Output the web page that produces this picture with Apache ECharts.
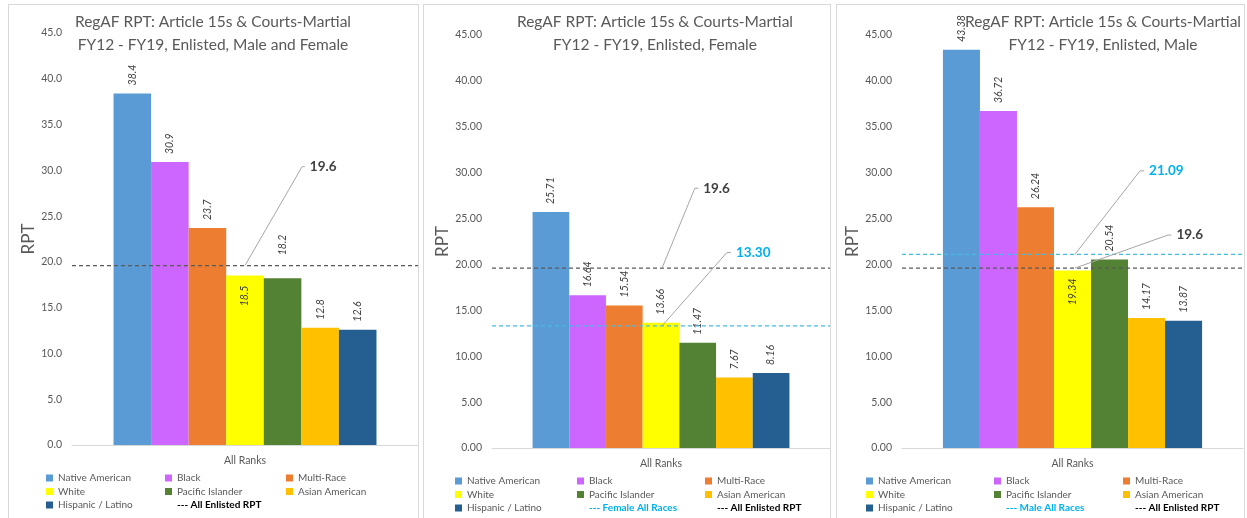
<!DOCTYPE html>
<html><head><meta charset="utf-8">
<script src="https://cdn.jsdelivr.net/npm/echarts@6/dist/echarts.min.js"></script>
<style>
html,body{margin:0;padding:0;background:#fff;}
#wrap{position:relative;width:1247px;height:518px;overflow:hidden;}
.frame{position:absolute;border:1px solid #d9d9d9;box-sizing:border-box;background:#fff;}
#chart{position:absolute;left:0;top:0;width:1247px;height:518px;}
</style></head><body>
<div id="wrap">
<div class="frame" style="left:8px;top:4px;width:411px;height:516px"></div>
<div class="frame" style="left:423px;top:4px;width:408px;height:516px"></div>
<div class="frame" style="left:836px;top:4px;width:409px;height:516px"></div>
<div id="chart"></div>
</div>
<script>
// ---------- data ----------
const categories = ['All Ranks'];
const races = ['Native American', 'Black', 'Multi-Race', 'White', 'Pacific Islander', 'Asian American', 'Hispanic / Latino'];
const rptAll = [38.4, 30.9, 23.7, 18.5, 18.2, 12.8, 12.6];
const rptFemale = [25.71, 16.64, 15.54, 13.66, 11.47, 7.67, 8.16];
const rptMale = [43.38, 36.72, 26.24, 19.34, 20.54, 14.17, 13.87];
const allEnlistedRPT = 19.6;
const femaleAllRaces = 13.30;
const maleAllRaces = 21.09;
const yMin = 0, yMax = 45, yInterval = 5;
const titles = [
  'RegAF RPT: Article 15s & Courts-Martial\nFY12 - FY19, Enlisted, Male and Female',
  'RegAF RPT: Article 15s & Courts-Martial\nFY12 - FY19, Enlisted, Female',
  'RegAF RPT: Article 15s & Courts-Martial\nFY12 - FY19, Enlisted, Male'
];

// ---------- styles / layout ----------
const raceColors = ['#5B9BD5', '#CC66FF', '#ED7D31', '#FFFF00', '#548235', '#FFC000', '#255E91'];
const FONT = 'Lato';
const GREY = '#595959';
const CYAN = '#00B0F0';
const panels = [
  {
    values: rptAll, decimals: 1, titleX: 213,
    grid: { left: 72, top: 33, width: 346, height: 412 }, nameGap: 34,
    refs: [
      { name: 'All Enlisted RPT', value: allEnlistedRPT, dec: 1, line: '#595959', text: '#404040',
        leader: [[0.5], [0.665, 30.4], [0.673, 30.4]] }
    ],
    tweaks: { 3: { inside: true, distance: 10 }, 4: { distance: 23 } },
    legendCols: [46, 165, 286], legendTop: 471.5,
    legendColItems: [
      ['Native American', 'White', 'Hispanic / Latino'],
      ['Black', 'Pacific Islander', 'All Enlisted RPT'],
      ['Multi-Race', 'Asian American']
    ]
  },
  {
    values: rptFemale, decimals: 2, titleX: 655,
    grid: { left: 492, top: 35, width: 338, height: 413 }, nameGap: 39,
    refs: [
      { name: 'All Enlisted RPT', value: allEnlistedRPT, dec: 1, line: '#595959', text: '#404040',
        leader: [[0.503], [0.60, 28.3], [0.61, 28.3]] },
      { name: 'Female All Races', value: femaleAllRaces, dec: 2, line: '#45BCE5', text: CYAN,
        leader: [[0.503], [0.695, 21.3], [0.707, 21.3]] }
    ],
    tweaks: {},
    legendCols: [455, 577, 705], legendTop: 474.5,
    legendColItems: [
      ['Native American', 'White', 'Hispanic / Latino'],
      ['Black', 'Pacific Islander', 'Female All Races'],
      ['Multi-Race', 'Asian American', 'All Enlisted RPT']
    ]
  },
  {
    values: rptMale, decimals: 2, titleX: 1103,
    grid: { left: 902, top: 35, width: 341, height: 413 }, nameGap: 37,
    refs: [
      { name: 'All Enlisted RPT', value: allEnlistedRPT, dec: 1, line: '#595959', text: '#404040',
        leader: [[0.507], [0.78, 23.2], [0.79, 23.2]] },
      { name: 'Male All Races', value: maleAllRaces, dec: 2, line: '#45BCE5', text: CYAN,
        leader: [[0.507], [0.698, 30.2], [0.71, 30.2]] }
    ],
    tweaks: { 3: { inside: true, distance: 8 } },
    legendCols: [866, 994, 1123], legendTop: 474.5,
    legendColItems: [
      ['Native American', 'White', 'Hispanic / Latino'],
      ['Black', 'Pacific Islander', 'Male All Races'],
      ['Multi-Race', 'Asian American', 'All Enlisted RPT']
    ]
  }
];
const lineNames = new Set(['All Enlisted RPT', 'Female All Races', 'Male All Races']);

const option = {
  animation: false,
  backgroundColor: 'transparent',
  textStyle: { fontFamily: FONT },
  title: [], grid: [], xAxis: [], yAxis: [], legend: [], series: []
};

panels.forEach((p, pi) => {
  option.title.push({
    text: titles[pi], left: p.titleX, top: 10, textAlign: 'center', padding: 0,
    textStyle: { fontFamily: FONT, fontSize: 15.5, fontWeight: 'normal', color: GREY, lineHeight: 23 }
  });
  option.grid.push(Object.assign({ containLabel: false }, p.grid));
  option.xAxis.push({
    type: 'category', gridIndex: pi, data: categories,
    axisLine: { lineStyle: { color: '#D9D9D9', width: 1 } },
    axisTick: { show: false },
    axisLabel: { color: GREY, fontSize: 10.5, margin: 10, fontFamily: FONT }
  });
  option.yAxis.push({
    type: 'value', gridIndex: pi, min: yMin, max: yMax, interval: yInterval,
    name: 'RPT', nameLocation: 'middle', nameGap: p.nameGap,
    nameTextStyle: { color: GREY, fontSize: 17, fontFamily: FONT },
    axisLine: { show: false }, axisTick: { show: false }, splitLine: { show: false },
    axisLabel: { color: GREY, fontSize: 10.5, margin: 10, fontFamily: FONT,
      formatter: v => v.toFixed(p.decimals) }
  });
  // bars
  races.forEach((r, i) => {
    const tw = p.tweaks[i] || {};
    const label = {
      show: true, rotate: 90, fontStyle: 'italic', fontSize: 10.5, color: '#404040', fontFamily: FONT,
      verticalAlign: 'middle',
      formatter: prm => prm.value.toFixed(p.decimals)
    };
    if (tw.inside) { label.position = 'insideTop'; label.align = 'right'; label.distance = tw.distance; }
    else { label.position = 'top'; label.align = 'left'; label.distance = tw.distance || 8; }
    option.series.push({
      type: 'bar', name: r, xAxisIndex: pi, yAxisIndex: pi,
      data: [p.values[i]], barGap: '0%', barCategoryGap: '24%',
      itemStyle: { color: raceColors[i] }, label
    });
  });
});
// hidden value x-axes for reference lines / leaders
panels.forEach((p, pi) => {
  option.xAxis.push({ type: 'value', gridIndex: pi, min: 0, max: 1, show: false });
});
panels.forEach((p, pi) => {
  p.refs.forEach(ref => {
    option.series.push({
      type: 'line', name: ref.name, xAxisIndex: 3 + pi, yAxisIndex: pi,
      data: [[0, ref.value], [1, ref.value]], symbol: 'none', silent: true, z: 5,
      itemStyle: { color: ref.line },
      lineStyle: { color: ref.line, width: 1.3, type: [4, 3] }
    });
    const pts = ref.leader.map((pt, k) => k === 0 ? [pt[0], ref.value] : pt);
    option.series.push({
      type: 'line', name: 'leader-' + pi + '-' + ref.name, xAxisIndex: 3 + pi, yAxisIndex: pi,
      data: pts, symbol: 'none', silent: true, z: 6,
      lineStyle: { color: '#A6A6A6', width: 1, type: 'solid' },
      endLabel: { show: true, distance: 5, formatter: () => ref.value.toFixed(ref.dec),
        fontFamily: FONT, fontSize: 13.5, fontWeight: 'bold', color: ref.text }
    });
  });
  p.legendColItems.forEach((items, ci) => {
    option.legend.push({
      orient: 'vertical', left: p.legendCols[ci], top: p.legendTop,
      itemWidth: 7, itemHeight: 7, itemGap: 0.5, padding: 0, selectedMode: false,
      textStyle: { fontFamily: FONT, fontSize: 10, color: GREY, lineHeight: 13 },
      formatter: n => lineNames.has(n) ? '--- ' + n : n,
      data: items.map(n => {
        if (!lineNames.has(n)) return { name: n, icon: 'rect' };
        return { name: n, icon: 'none', textStyle: { fontWeight: 'bold',
          color: n === 'All Enlisted RPT' ? '#000000' : CYAN } };
      })
    });
  });
});

const chart = echarts.init(document.getElementById('chart'), null, { renderer: 'canvas' });
chart.setOption(option);
</script>
</body></html>
